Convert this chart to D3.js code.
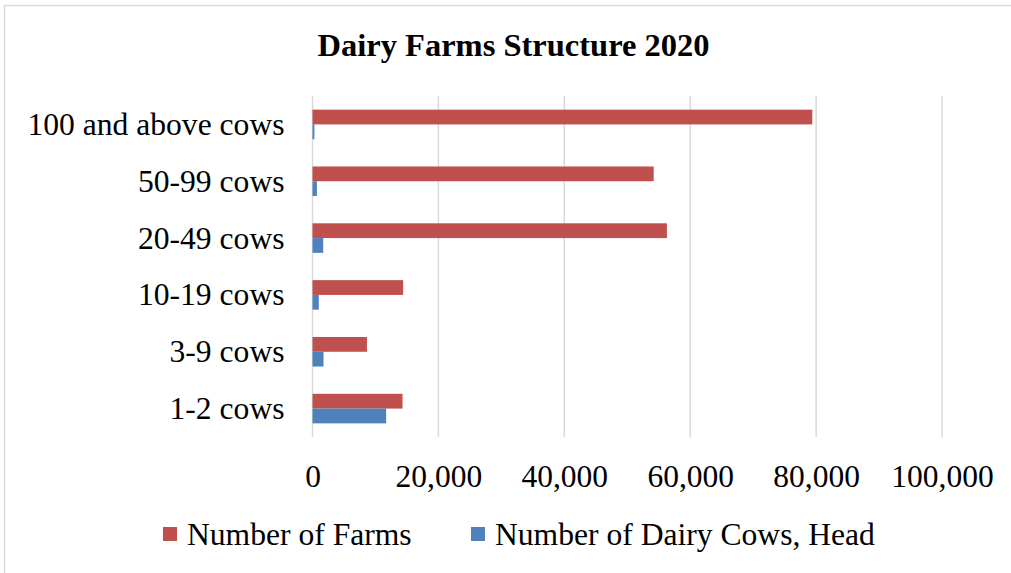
<!DOCTYPE html>
<html>
<head>
<meta charset="utf-8">
<script src="https://cdn.jsdelivr.net/npm/d3@7"></script>
<style>
  html, body { margin: 0; padding: 0; background: #fff; }
  svg { display: block; }
  text { font-family: "Liberation Serif", "Times New Roman", serif; fill: #000; }
</style>
</head>
<body>
<svg id="chart" width="1011" height="573"></svg>
<script>
const categories = ["100 and above cows", "50-99 cows", "20-49 cows", "10-19 cows", "3-9 cows", "1-2 cows"];
const seriesNames = ["Number of Farms", "Number of Dairy Cows, Head"];
const farms = [79400, 54200, 56300, 14400, 8650, 14300];
const cows = [300, 700, 1700, 1000, 1750, 11700];
const tickValues = [0, 20000, 40000, 60000, 80000, 100000];
const colors = ["#C0504D", "#4F81BD"];

const svg = d3.select("#chart");
const W = 1011, H = 573;

svg.append("rect").attr("x", 0).attr("y", 0).attr("width", W).attr("height", H).attr("fill", "#fff");
// chart border
svg.append("rect").attr("x", 4.5).attr("y", 5.5).attr("width", W + 20).attr("height", H + 20)
  .attr("fill", "none").attr("stroke", "#d9d9d9").attr("stroke-width", 1.5);

const plot = { left: 312.5, right: 942, top: 96, bottom: 437 };

const x = d3.scaleLinear().domain([0, 100000]).range([plot.left, plot.right]);
const y = d3.scaleBand().domain(categories).range([plot.top, plot.bottom]).paddingInner(0.48).paddingOuter(0.24);
const sub = d3.scaleBand().domain(seriesNames).range([0, y.bandwidth()]);

// gridlines
svg.append("g").selectAll("line").data(tickValues).join("line")
  .attr("x1", d => x(d)).attr("x2", d => x(d))
  .attr("y1", plot.top).attr("y2", plot.bottom)
  .attr("stroke", "#d9d9d9").attr("stroke-width", 1.5);

// title
svg.append("text").attr("x", 513.5).attr("y", 56).attr("text-anchor", "middle")
  .attr("font-size", 32.5).attr("font-weight", "bold").text("Dairy Farms Structure 2020");

// bars
const rows = categories.map((c, i) => ({ c, vals: [farms[i], cows[i]] }));
const g = svg.append("g");
rows.forEach(r => {
  r.vals.forEach((v, j) => {
    g.append("rect")
      .attr("x", x(0)).attr("y", y(r.c) + sub(seriesNames[j]))
      .attr("width", x(v) - x(0)).attr("height", sub.bandwidth())
      .attr("fill", colors[j]);
  });
});

// y axis labels
const yAxis = d3.axisLeft(y).tickSize(0).tickPadding(28);
const yg = svg.append("g").attr("transform", `translate(${plot.left},0)`).call(yAxis);
yg.select(".domain").remove();
yg.selectAll("text").attr("font-size", 31.6).attr("font-family", "Liberation Serif").attr("fill", "#000")
  .attr("dy", "0.33em");

// x axis labels
const xAxis = d3.axisBottom(x).tickValues(tickValues).tickSize(0).tickPadding(0)
  .tickFormat(d3.format(","));
const xg = svg.append("g").attr("transform", `translate(0,${plot.bottom})`).call(xAxis);
xg.select(".domain").remove();
xg.selectAll("text").attr("font-size", 31.5).attr("font-family", "Liberation Serif").attr("fill", "#000")
  .attr("dy", 0).attr("y", 50);

// legend
const legendX = [163, 471];
seriesNames.forEach((n, j) => {
  svg.append("rect").attr("x", legendX[j]).attr("y", 527).attr("width", 14).attr("height", 14).attr("fill", colors[j]);
  svg.append("text").attr("x", legendX[j] + 24).attr("y", 545).attr("font-size", 31.6).text(n);
});
</script>
</body>
</html>
